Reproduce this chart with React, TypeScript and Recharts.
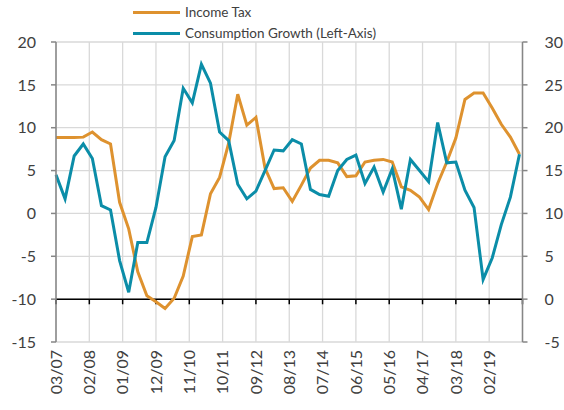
import React from 'react'
import {
  LineChart, Line, XAxis, YAxis, CartesianGrid, ReferenceLine, Legend,
} from 'recharts'

// quarterly data, first observation 03/07
const firstQuarter = '03/07'
const axisEnd = '01/20'
const tickLabels = [
  '03/07', '02/08', '01/09', '12/09', '11/10', '10/11', '09/12',
  '08/13', '07/14', '06/15', '05/16', '04/17', '03/18', '02/19',
]

// right axis
const incomeTax = [
  18.85, 18.85, 18.85, 18.9, 19.5, 18.6, 18.1, 11.3, 8.2, 3.2, 0.4, -0.3, -1.1,
  0.1, 2.7, 7.3, 7.5, 12.3, 14.2, 18.2, 23.9, 20.3, 21.2, 15.3, 12.9, 13.0,
  11.4, 13.3, 15.3, 16.2, 16.2, 15.9, 14.3, 14.4, 16.0, 16.2, 16.3, 16.0, 13.1,
  12.7, 11.9, 10.45, 13.5, 16.0, 18.8, 23.3, 24.05, 24.05, 22.3, 20.4, 18.9, 16.9,
]

// left axis
const consumptionGrowth = [
  4.5, 1.7, 6.7, 8.1, 6.4, 0.9, 0.4, -5.5, -9.2, -3.4, -3.4, 0.7, 6.6,
  8.5, 14.6, 12.9, 17.4, 15.2, 9.5, 8.5, 3.4, 1.7, 2.6, 5.0, 7.4, 7.3,
  8.6, 8.1, 2.8, 2.2, 2.0, 5.0, 6.3, 6.8, 3.5, 5.4, 2.5, 5.2, 0.5,
  6.3, 5.0, 3.7, 10.6, 5.9, 6.0, 2.7, 0.7, -7.7, -5.2, -1.3, 1.9, 6.9,
]

const seriesNames = ['Income Tax', 'Consumption Growth (Left-Axis)']

const leftTicks = [-15, -10, -5, 0, 5, 10, 15, 20]
const rightTicks = [-5, 0, 5, 10, 15, 20, 25, 30]

const ORANGE = '#DE922F'
const TEAL = '#0B8DA8'
const TEXT = '#404040'
const FONT = 'Lato, "Open Sans", sans-serif'

// months since the first quarter
const monthIndex = (label: string) => {
  const [mm, yy] = label.split('/').map(Number)
  const [m0, y0] = firstQuarter.split('/').map(Number)
  return (yy - y0) * 12 + (mm - m0)
}

const data = consumptionGrowth.map((c, i) => ({
  m: i * 3,
  consumption: c,
  tax: incomeTax[i],
}))

const xTicks = [...tickLabels.map(monthIndex), monthIndex(axisEnd)]
const labelAt: Record<number, string> = {}
tickLabels.forEach((l) => { labelAt[monthIndex(l)] = l })

const XTick = (props: any) => {
  const { x, y, payload } = props
  const label = labelAt[payload.value]
  if (!label) return null
  return (
    <text
      x={x} y={y} dy="0.36em"
      transform={`rotate(-90 ${x} ${y})`}
      textAnchor="end" fill={TEXT} fontSize={16} fontFamily={FONT}
    >
      {label}
    </text>
  )
}

const LegendBox = (props: any) => {
  const items = [...(props.payload || [])].sort(
    (a: any, b: any) => seriesNames.indexOf(a.value) - seriesNames.indexOf(b.value),
  )
  return (
    <div style={{ position: 'relative', width: 564, height: 42, fontFamily: FONT }}>
      {items.map((it: any, i: number) => (
        <div key={it.value} style={{ position: 'absolute', left: 133, top: 2 + i * 21, height: 20, display: 'flex', alignItems: 'center' }}>
          <div style={{ width: 47, height: 3, background: it.color }} />
          <span style={{ marginLeft: 5, fontSize: 13.5, color: TEXT, whiteSpace: 'nowrap' }}>{it.value}</span>
        </div>
      ))}
    </div>
  )
}

export default function App() {
  return (
    <div style={{ position: 'absolute', left: 0, top: 0, width: 564, height: 410, background: '#fff' }}>
      <LineChart width={564} height={410} data={data} margin={{ top: 42, right: 0, bottom: 8, left: 0 }}>
        <CartesianGrid yAxisId="left" stroke="#D9D9D9" strokeWidth={1.3} />
        <XAxis
          dataKey="m" type="number" domain={[0, monthIndex(axisEnd)]} ticks={xTicks}
          interval={0} axisLine={false} tickLine={false} height={60} tick={<XTick />}
        />
        <YAxis
          yAxisId="left" domain={[-15, 20]} ticks={leftTicks} width={56}
          axisLine={{ stroke: '#868686', strokeWidth: 1.5 }} tickLine={{ stroke: '#868686', strokeWidth: 1.5 }}
          tickSize={5} tickMargin={15} tick={{ fill: TEXT, fontSize: 16, fontFamily: FONT }}
        />
        <YAxis
          yAxisId="right" orientation="right" domain={[-5, 30]} ticks={rightTicks} width={41.5}
          axisLine={{ stroke: '#868686', strokeWidth: 1.5 }} tickLine={{ stroke: '#868686', strokeWidth: 1.5 }}
          tickSize={5} tickMargin={17} tick={{ fill: TEXT, fontSize: 16, fontFamily: FONT }}
        />
        <ReferenceLine yAxisId="right" y={0} stroke="#000" strokeWidth={1.5} />
        {xTicks.map((t) => (
          <ReferenceLine
            key={t} yAxisId="right" stroke="#000" strokeWidth={1.5}
            segment={[{ x: t, y: 0 }, { x: t, y: -0.6 }]}
          />
        ))}
        <Legend layout="vertical" align="center" verticalAlign="middle"
          wrapperStyle={{ top: 0, left: 0 }} content={<LegendBox />} />
        <Line yAxisId="right" dataKey="tax" name={seriesNames[0]} stroke={ORANGE} strokeWidth={3}
          dot={false} type="linear" isAnimationActive={false} />
        <Line yAxisId="left" dataKey="consumption" name={seriesNames[1]} stroke={TEAL} strokeWidth={3}
          dot={false} type="linear" isAnimationActive={false} />
      </LineChart>
    </div>
  )
}
